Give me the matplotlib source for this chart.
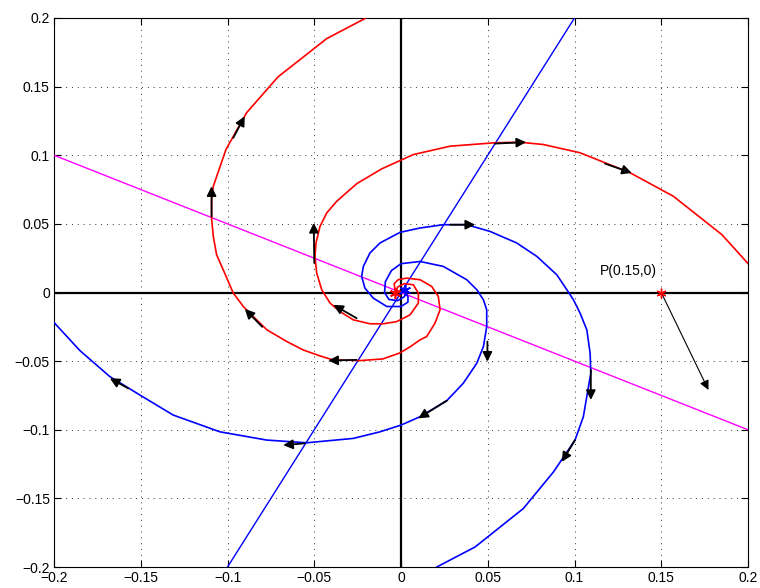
import numpy as np
import matplotlib
matplotlib.use('Agg')
import matplotlib.pyplot as plt

plt.rcParams['font.family'] = ['Liberation Sans', 'DejaVu Sans']

# red trajectory, arm 1 (from origin out to the top edge)
red1_x = [-0.001, -0.0035, -0.004, -0.0017, 0.0033, 0.011, 0.0177, 0.0215, 0.0225, 0.0196, 0.0148,
          0.011, 0.0052, -0.0006, -0.0104, -0.0236, -0.0392, -0.0467, -0.0565, -0.0657, -0.0773,
          -0.0842, -0.0909, -0.0967, -0.1025, -0.1063, -0.1082, -0.1092, -0.1092, -0.1082, -0.1009,
          -0.089, -0.0708, -0.0428, -0.0208]
red1_y = [0.0, 0.0027, 0.0063, 0.0093, 0.0105, 0.0093, 0.0044, -0.0029, -0.0126, -0.0223, -0.0321,
          -0.0345, -0.0396, -0.044, -0.0484, -0.0496, -0.0491, -0.0462, -0.0418, -0.0358, -0.0272,
          -0.0187, -0.0102, -0.0004, 0.0166, 0.0275, 0.0409, 0.0543, 0.0677, 0.0774, 0.1042,
          0.131, 0.1572, 0.185, 0.1996]

# red trajectory, arm 2 (from origin out to the right edge)
red2_x = [-0.003, -0.002, 0.002, 0.0071, 0.01, 0.01, 0.0052, -0.0025, -0.0102, -0.0179, -0.0275,
          -0.0352, -0.0409, -0.0457, -0.0486, -0.0496, -0.049, -0.0467, -0.0428, -0.0371, -0.0255,
          -0.0111, -0.0006, 0.0071, 0.0283, 0.0542, 0.0686, 0.0821, 0.1032, 0.1321, 0.157, 0.185, 0.2003]
red2_y = [0.0, 0.004, 0.0065, 0.0056, -0.0004, -0.0077, -0.0163, -0.0212, -0.0228, -0.0228, -0.0199,
          -0.0139, -0.0077, 0.002, 0.0142, 0.0263, 0.0361, 0.0482, 0.058, 0.0664, 0.0793,
          0.0901, 0.0961, 0.1005, 0.1066, 0.1091, 0.1095, 0.1078, 0.1018, 0.0872, 0.0701, 0.0421, 0.0207]

# blue trajectory, arm 1 (out to the left edge)
blue1_x = [0.003, 0.002, -0.002, -0.007, -0.0095, -0.009, -0.0055, 0.0, 0.011, 0.0244, 0.0379, 0.0437,
           0.0475, 0.0494, 0.0494, 0.0475, 0.0437, 0.0359, 0.0264, 0.011, 0.0, -0.0121, -0.0275,
           -0.0544, -0.0775, -0.1044, -0.1313, -0.1505, -0.1678, -0.1851, -0.2005]
blue1_y = [0.001, -0.003, -0.006, -0.005, 0.0, 0.008, 0.016, 0.021, 0.0226, 0.019, 0.0093, 0.002,
           -0.0053, -0.0126, -0.0248, -0.0394, -0.0515, -0.0661, -0.0788, -0.0905, -0.0966, -0.1015, -0.1063,
           -0.1095, -0.1075, -0.1015, -0.0893, -0.0747, -0.0613, -0.0423, -0.0212]

# blue trajectory, arm 2 (out to the bottom edge)
blue2_x = [0.002, 0.004, 0.004, 0.0, -0.0082, -0.016, -0.0208, -0.0227, -0.0217, -0.0179, -0.0121,
           -0.0006, 0.011, 0.0244, 0.0379, 0.0513, 0.0667, 0.0783, 0.0898, 0.0956, 0.0994, 0.1032,
           0.1071, 0.109, 0.1094, 0.1051, 0.1003, 0.0879, 0.0705, 0.0427, 0.0206]
blue2_y = [0.001, -0.003, -0.007, -0.0102, -0.0102, -0.0041, 0.0032, 0.0117, 0.019, 0.0288, 0.0361,
           0.0438, 0.047, 0.0494, 0.0494, 0.0445, 0.0361, 0.0263, 0.0129, 0.002, -0.0053, -0.015,
           -0.0272, -0.0442, -0.0588, -0.0905, -0.1075, -0.1307, -0.1574, -0.1854, -0.2]

# direction arrows along the curves: (tail x, tail y, head x, head y)
arrows = [(-0.0967, 0.1127, -0.0901, 0.1284),
          (-0.1092, 0.0555, -0.1092, 0.0774),
          (-0.0500, 0.0215, -0.0503, 0.0507),
          (-0.0256, -0.0187, -0.0390, -0.0090),
          (-0.0800, -0.0250, -0.0900, -0.0120),
          (-0.0256, -0.0491, -0.0419, -0.0496),
          (0.0542, 0.1085, 0.0721, 0.1095),
          (0.1176, 0.0939, 0.1330, 0.0871),
          (0.0283, 0.0494, 0.0427, 0.0494),
          (0.0498, -0.0358, 0.0498, -0.0504),
          (0.0264, -0.0788, 0.0100, -0.0917),
          (0.1094, -0.0564, 0.1094, -0.0783),
          (0.1003, -0.1075, 0.0927, -0.1234),
          (-0.0554, -0.1099, -0.0679, -0.1112),
          (-0.1573, -0.0698, -0.1678, -0.0625)]

# straight lines through the origin
mag_x = [-0.2, 0.2]
mag_y = [0.1, -0.1]
line_x = [-0.1, 0.1]
line_y = [-0.2, 0.2]

# point P and its vector
P = (0.15, 0.0)
P_head = (0.1772, -0.071)

# asterisk markers near the origin
red_star = (-0.0035, -0.0004)
blue_star = (0.0023, 0.002)

ticks = [-0.2, -0.15, -0.1, -0.05, 0, 0.05, 0.1, 0.15, 0.2]
tick_labels = ['\u22120.2', '\u22120.15', '\u22120.1', '\u22120.05', '0', '0.05', '0.1', '0.15', '0.2']

fig = plt.figure(figsize=(7.6, 5.88), dpi=100)
ax = fig.add_axes([0.0711, 0.0357, 0.9131, 0.9337])

ax.plot([-0.2, 0.2], [0, 0], color='k', lw=1.6, zorder=2)
ax.plot([0, 0], [-0.2, 0.2], color='k', lw=1.6, zorder=2)
ax.plot(mag_x, mag_y, color='#ff00ff', lw=1.0, zorder=3)
ax.plot(line_x, line_y, color='#0000ff', lw=1.0, zorder=3)

ax.plot(red1_x, red1_y, color='#ff0000', lw=1.2, zorder=4)
ax.plot(red2_x, red2_y, color='#ff0000', lw=1.2, zorder=4)
ax.plot(blue1_x, blue1_y, color='#0000ff', lw=1.2, zorder=4)
ax.plot(blue2_x, blue2_y, color='#0000ff', lw=1.2, zorder=4)

# MATLAB-style '*' markers (asterisk, not a filled star)
ax.plot(*red_star, marker=(6, 2, 0), color='#ff0000', ms=8, mew=1.2, zorder=5)
ax.plot(*blue_star, marker=(6, 2, 0), color='#0000ff', ms=8, mew=1.2, zorder=5)

for tx, ty, hx, hy in arrows:
    ax.annotate('', xy=(hx, hy), xytext=(tx, ty),
                arrowprops=dict(arrowstyle='-|>', color='k', lw=1.3, mutation_scale=14,
                                shrinkA=0, shrinkB=0), zorder=6)

ax.annotate('', xy=P_head, xytext=P,
            arrowprops=dict(arrowstyle='-|>', color='k', lw=0.8, mutation_scale=14,
                            shrinkA=0, shrinkB=0), zorder=6)
ax.plot(*P, marker=(6, 2, 0), color='#ff0000', ms=7, mew=1.0, zorder=7)
ax.text(0.1148, 0.0155, 'P(0.15,0)', fontsize=10, va='center', ha='left')

ax.set_xlim(-0.2, 0.2)
ax.set_ylim(-0.2, 0.2)
ax.set_xticks(ticks)
ax.set_xticklabels(tick_labels)
ax.set_yticks(ticks)
ax.set_yticklabels(tick_labels)
ax.tick_params(direction='in', length=5, width=0.8, labelsize=10, pad=3,
               top=True, right=True)
ax.grid(True, color='0.2', linestyle=(0, (1, 5)), lw=0.7)
for s in ax.spines.values():
    s.set_linewidth(0.8)

fig.savefig('out.png', dpi=100)
